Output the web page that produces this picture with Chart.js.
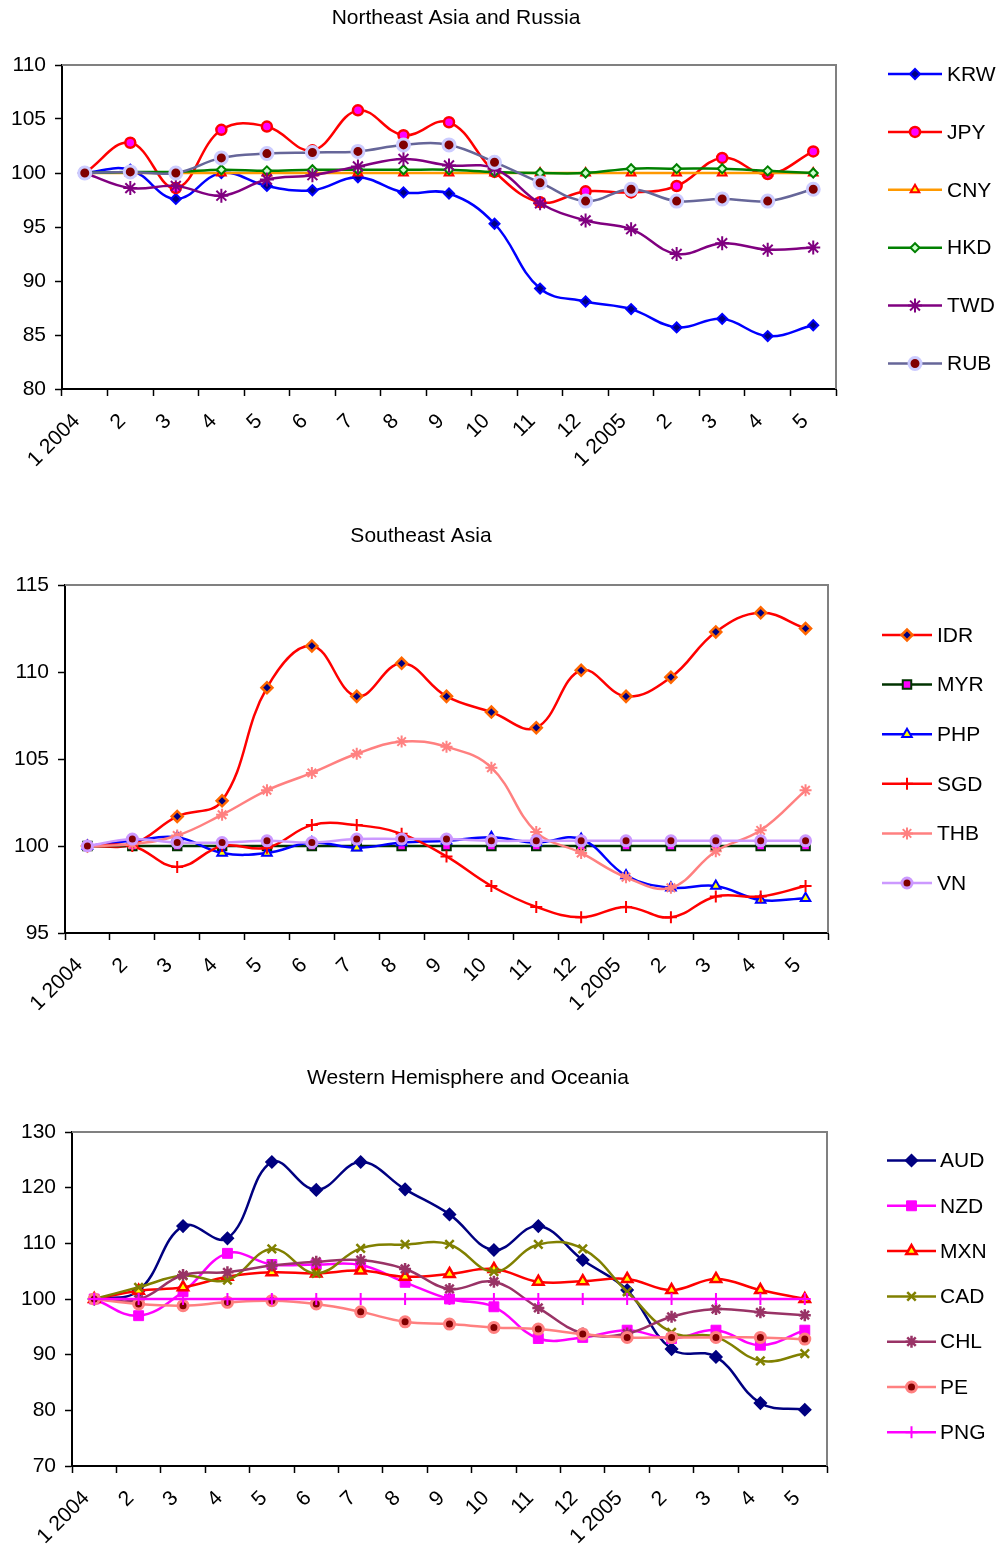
<!DOCTYPE html>
<html>
<head>
<meta charset="utf-8">
<script src="https://cdn.jsdelivr.net/npm/chart.js@4.4.1/dist/chart.umd.min.js"></script>
<style>
  html, body { margin: 0; padding: 0; background: #ffffff; }
  #wrap { position: relative; width: 1000px; height: 1552px; }
  #wrap canvas { position: absolute; left: 0; }
</style>
</head>
<body>
<div id="wrap">
  <canvas id="neAsia" width="1000" height="500" style="top:0px"></canvas>
  <canvas id="seAsia" width="1000" height="545" style="top:500px"></canvas>
  <canvas id="westHemi" width="1000" height="507" style="top:1045px"></canvas>
</div>
<script>
// Monthly index values (January 2004 = 100)
const months = ['1 2004', '2', '3', '4', '5', '6', '7', '8', '9', '10', '11', '12', '1 2005', '2', '3', '4', '5'];

// Northeast Asia and Russia
const KRW = [100, 100.3, 97.6, 100.0, 98.8, 98.4, 99.6, 98.2, 98.1, 95.3, 89.3, 88.1, 87.4, 85.7, 86.5, 84.9, 85.9];
const JPY = [100, 102.8, 98.6, 104.0, 104.3, 102.1, 105.8, 103.5, 104.7, 100.1, 97.3, 98.3, 98.2, 98.8, 101.4, 99.9, 102.0];
const CNY = [100, 100, 100, 100, 100, 100, 100, 100, 100, 100, 100, 100, 100, 100, 100, 100, 100];
const HKD = [100, 100.1, 100.1, 100.3, 100.2, 100.3, 100.3, 100.3, 100.3, 100.1, 100.0, 100.0, 100.4, 100.4, 100.4, 100.2, 100.0];
const TWD = [100, 98.6, 98.8, 97.9, 99.4, 99.8, 100.6, 101.3, 100.7, 100.4, 97.2, 95.6, 94.8, 92.5, 93.5, 92.9, 93.1];
const RUB = [100, 100.1, 100.0, 101.4, 101.8, 101.9, 102.0, 102.6, 102.6, 101.0, 99.1, 97.4, 98.5, 97.4, 97.6, 97.4, 98.5];

// Southeast Asia
const IDR = [100, 100.1, 101.7, 102.6, 109.1, 111.5, 108.6, 110.5, 108.6, 107.7, 106.8, 110.1, 108.6, 109.7, 112.3, 113.4, 112.5];
const MYR = [100, 100, 100, 100, 100, 100, 100, 100, 100, 100, 100, 100, 100, 100, 100, 100, 100];
const PHP = [100, 100.3, 100.5, 99.6, 99.6, 100.2, 99.9, 100.2, 100.3, 100.5, 100.2, 100.4, 98.3, 97.6, 97.7, 96.9, 97.0];
const SGD = [100, 100.0, 98.8, 100.0, 99.9, 101.2, 101.2, 100.7, 99.4, 97.7, 96.5, 95.9, 96.5, 95.9, 97.1, 97.1, 97.7];
const THB = [100, 100.1, 100.6, 101.8, 103.2, 104.2, 105.3, 106.0, 105.7, 104.5, 100.8, 99.6, 98.2, 97.6, 99.7, 100.9, 103.2];
const VN  = [100, 100.4, 100.2, 100.2, 100.3, 100.2, 100.4, 100.4, 100.4, 100.3, 100.3, 100.3, 100.3, 100.3, 100.3, 100.3, 100.3];

// Western Hemisphere and Oceania
const AUD = [100, 101.5, 113.1, 110.9, 124.6, 119.6, 124.6, 119.7, 115.2, 108.8, 113.1, 107.0, 101.6, 91.0, 89.6, 81.3, 80.1];
const NZD = [100, 97.0, 101.3, 108.2, 106.2, 106.2, 106.1, 103.0, 100.0, 98.6, 92.9, 93.1, 94.4, 92.9, 94.4, 91.7, 94.4];
const MXN = [100, 101.5, 102.1, 104.0, 104.8, 104.6, 105.1, 104.0, 104.5, 105.4, 103.1, 103.2, 103.6, 101.6, 103.6, 101.6, 100.0];
const CAD = [100, 102.1, 104.2, 103.4, 109.0, 104.6, 109.1, 109.8, 109.8, 104.9, 109.8, 109.0, 101.3, 94.0, 93.2, 88.9, 90.2];
const CHL = [100, 99.9, 104.3, 104.8, 106.0, 106.7, 107.0, 105.4, 101.8, 103.1, 98.4, 93.8, 93.8, 96.8, 98.2, 97.6, 97.1];
const PE  = [100, 99.1, 98.8, 99.4, 99.7, 99.1, 97.7, 95.9, 95.5, 94.9, 94.6, 93.7, 93.1, 93.1, 93.1, 93.1, 92.8];
const PNG = [100, 100, 100, 100, 100, 100, 100, 100, 100, 100, 100, 100, 100, 100, 100, 100, 100];

const FONT = '"Liberation Sans", Arial, Helvetica, sans-serif';
const TEXT_SIZE = 21;

// Line and marker looks for each currency
const looks = {
  KRW: { line: '#0000FF', shape: 'rectRot',  r: 5,   fill: '#000080', edge: '#0000FF', ew: 2 },
  JPY: { line: '#FF0000', shape: 'circle',   r: 5,   fill: '#FF00FF', edge: '#FF0000', ew: 2.5 },
  CNY: { line: '#FF9900', shape: 'triangle', r: 5,   fill: '#FFFF00', edge: '#FF0000', ew: 2 },
  HKD: { line: '#008000', shape: 'rectRot',  r: 4.5, fill: '#CCFFCC', edge: '#008000', ew: 2 },
  TWD: { line: '#800080', shape: 'star',     r: 7,   fill: '#800080', edge: '#800080', ew: 2 },
  RUB: { line: '#666699', shape: 'circle',   r: 6,   fill: '#800000', edge: '#CCCCFF', ew: 3 },

  IDR: { line: '#FF0000', shape: 'rectRot',  r: 5.5, fill: '#000080', edge: '#FF6600', ew: 2.5 },
  MYR: { line: '#003300', shape: 'rect',     r: 6,   fill: '#FF00FF', edge: '#003300', ew: 2 },
  PHP: { line: '#0000FF', shape: 'triangle', r: 5.5, fill: '#FFFF00', edge: '#0000FF', ew: 2 },
  SGD: { line: '#FF0000', shape: 'cross',    r: 6,   fill: '#FF0000', edge: '#FF0000', ew: 2 },
  THB: { line: '#FF8080', shape: 'star',     r: 6,   fill: '#FF8080', edge: '#FF8080', ew: 2 },
  VN:  { line: '#CC99FF', shape: 'circle',   r: 5,   fill: '#800000', edge: '#CC99FF', ew: 3 },

  AUD: { line: '#000080', shape: 'rectRot',  r: 6,   fill: '#000080', edge: '#000080', ew: 1.5 },
  NZD: { line: '#FF00FF', shape: 'rect',     r: 7,   fill: '#FF00FF', edge: '#FF00FF', ew: 1 },
  MXN: { line: '#FF0000', shape: 'triangle', r: 6,   fill: '#FFFF00', edge: '#FF0000', ew: 2.5 },
  CAD: { line: '#808000', shape: 'crossRot', r: 6,   fill: '#808000', edge: '#808000', ew: 2.5 },
  CHL: { line: '#993366', shape: 'star',     r: 6,   fill: '#993366', edge: '#993366', ew: 2.5 },
  PE:  { line: '#FF8080', shape: 'circle',   r: 5,   fill: '#800000', edge: '#FF8080', ew: 3 },
  PNG: { line: '#FF00FF', shape: 'cross',    r: 6,   fill: '#FF00FF', edge: '#FF00FF', ew: 2 }
};

// Plot frame, title and a line-with-marker legend drawn on the chart canvas
const panelPlugin = {
  id: 'panel',
  beforeDatasetsDraw(chart, args, opts) {
    const { ctx, chartArea: a } = chart;
    ctx.save();
    ctx.strokeStyle = '#808080';
    ctx.lineWidth = 2;
    ctx.beginPath();
    ctx.moveTo(a.left, a.top);
    ctx.lineTo(a.right, a.top);
    ctx.lineTo(a.right, a.bottom);
    ctx.stroke();
    ctx.restore();
  },
  afterDraw(chart, args, opts) {
    const ctx = chart.ctx;
    ctx.save();
    ctx.fillStyle = '#000000';
    ctx.font = TEXT_SIZE + 'px ' + FONT;
    ctx.textAlign = 'center';
    ctx.textBaseline = 'middle';
    ctx.fillText(opts.title, opts.titleX, opts.titleY);

    const L = opts.legend;
    chart.data.datasets.forEach((ds, i) => {
      const y = L.y0 + i * L.dy;
      ctx.strokeStyle = ds.borderColor;
      ctx.lineWidth = ds.borderWidth;
      ctx.beginPath();
      ctx.moveTo(L.x1, y);
      ctx.lineTo(L.x2, y);
      ctx.stroke();
      ctx.fillStyle = ds.pointBackgroundColor;
      ctx.strokeStyle = ds.pointBorderColor;
      ctx.lineWidth = ds.pointBorderWidth;
      Chart.helpers.drawPoint(ctx, {
        pointStyle: ds.pointStyle, rotation: 0,
        radius: ds.pointRadius, borderWidth: ds.pointBorderWidth
      }, (L.x1 + L.x2) / 2, y);
      ctx.fillStyle = '#000000';
      ctx.font = TEXT_SIZE + 'px ' + FONT;
      ctx.textAlign = 'left';
      ctx.textBaseline = 'middle';
      ctx.fillText(ds.label, L.tx, y + 1);
    });
    ctx.restore();
  }
};

function buildDatasets(names, series) {
  const n = names.length;
  return names.map((name, i) => {
    const lk = looks[name];
    return {
      label: name,
      data: series[i],
      borderColor: lk.line,
      backgroundColor: lk.line,
      borderWidth: 2.5,
      tension: 0.4,
      fill: false,
      pointStyle: lk.shape,
      pointRadius: lk.r,
      pointHoverRadius: lk.r,
      pointBackgroundColor: lk.fill,
      pointBorderColor: lk.edge,
      pointBorderWidth: lk.ew,
      order: n - i
    };
  });
}

function makePanel(id, names, series, yMin, yMax, yStep, area, axisH, panelOpts) {
  const canvas = document.getElementById(id);
  const W = canvas.width, H = canvas.height;
  return new Chart(canvas, {
    type: 'line',
    data: { labels: months, datasets: buildDatasets(names, series) },
    options: {
      responsive: false,
      animation: false,
      devicePixelRatio: 1,
      layout: {
        padding: { left: 0, top: area.top, right: W - area.right, bottom: H - area.bottom - axisH }
      },
      plugins: {
        legend: { display: false },
        title: { display: false },
        tooltip: { enabled: false },
        panel: panelOpts
      },
      scales: {
        x: {
          type: 'category',
          offset: true,
          grid: { drawOnChartArea: false, drawTicks: true, tickLength: 7, tickColor: '#000000', tickWidth: 1.5, offset: true },
          border: { color: '#000000', width: 2 },
          ticks: {
            autoSkip: false, maxRotation: 45, minRotation: 45,
            color: '#000000', font: { family: FONT, size: TEXT_SIZE },
            padding: 13, labelOffset: -8
          },
          afterFit(s) { s.height = axisH; }
        },
        y: {
          min: yMin, max: yMax,
          grid: { drawOnChartArea: false, drawTicks: true, tickLength: 7, tickColor: '#000000', tickWidth: 1.5 },
          border: { color: '#000000', width: 2 },
          ticks: { stepSize: yStep, color: '#000000', font: { family: FONT, size: TEXT_SIZE }, padding: 9 },
          afterFit(s) { s.width = area.left; }
        }
      }
    },
    plugins: [panelPlugin]
  });
}

makePanel('neAsia',
  ['KRW', 'JPY', 'CNY', 'HKD', 'TWD', 'RUB'],
  [KRW, JPY, CNY, HKD, TWD, RUB],
  80, 110, 5,
  { left: 62, top: 65, right: 836, bottom: 389 }, 95,
  { title: 'Northeast Asia and Russia', titleX: 456, titleY: 18,
    legend: { x1: 888, x2: 942, tx: 947, y0: 74, dy: 57.9 } });

makePanel('seAsia',
  ['IDR', 'MYR', 'PHP', 'SGD', 'THB', 'VN'],
  [IDR, MYR, PHP, SGD, THB, VN],
  95, 115, 5,
  { left: 65, top: 85, right: 828, bottom: 433 }, 95,
  { title: 'Southeast Asia', titleX: 421, titleY: 36,
    legend: { x1: 882, x2: 932, tx: 937, y0: 135, dy: 49.6 } });

makePanel('westHemi',
  ['AUD', 'NZD', 'MXN', 'CAD', 'CHL', 'PE', 'PNG'],
  [AUD, NZD, MXN, CAD, CHL, PE, PNG],
  70, 130, 10,
  { left: 72, top: 87, right: 827, bottom: 421 }, 80,
  { title: 'Western Hemisphere and Oceania', titleX: 468, titleY: 33,
    legend: { x1: 887, x2: 936, tx: 940, y0: 115.5, dy: 45.3 } });
</script>
</body>
</html>
